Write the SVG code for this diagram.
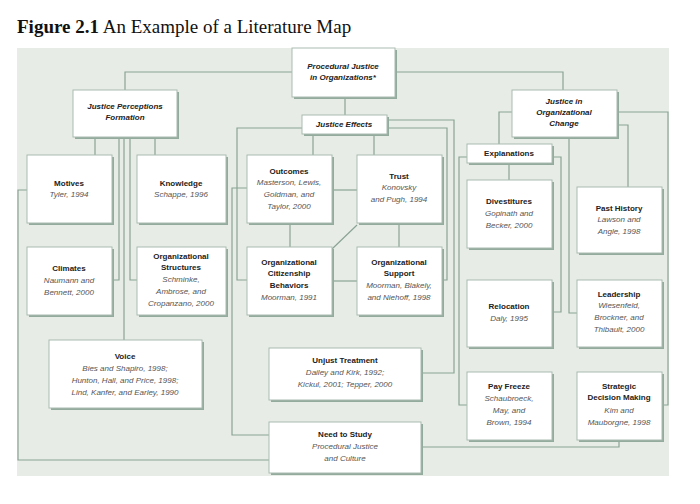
<svg xmlns="http://www.w3.org/2000/svg" width="700" height="504" viewBox="0 0 700 504">
<style>
.sh{fill:#93ab9c}
.bx{fill:#fff;stroke:#a9bbb0;stroke-width:1}
.ln{fill:none;stroke:#8aa394;stroke-width:1.2}
text{font-family:"Liberation Sans",Arial,sans-serif;font-size:8px;text-anchor:middle}
.b{font-weight:bold;fill:#222}
.i{font-style:italic;fill:#555}
.h{font-weight:bold;font-style:italic;fill:#222}
</style>
<rect width="700" height="504" fill="#fff"/>
<text x="17" y="33" style="font-family:'Liberation Serif',serif;font-size:19px;text-anchor:start;fill:#111"><tspan font-weight="bold">Figure 2.1</tspan> An Example of a Literature Map</text>
<rect x="17" y="48" width="652" height="428" fill="#e7ece7"/>
<g id="connectors" class="ln">
<polyline points="292,72 125,72 125,90"/>
<polyline points="397,72 563,72 563,90"/>
<line x1="345" y1="97" x2="345" y2="115"/>
<line x1="95" y1="137" x2="95" y2="155"/>
<line x1="155" y1="137" x2="155" y2="155"/>
<polyline points="119,137 119,280 112,280"/>
<polyline points="130,137 130,280 137,280"/>
<line x1="124" y1="137" x2="124" y2="340"/>
<polyline points="27,190 18,190 18,460 269,460"/>
<polyline points="302,128 237,128 237,280 247,280"/>
<polyline points="247,188 232,188 232,435 269,435"/>
<line x1="313" y1="134" x2="313" y2="155"/>
<line x1="374" y1="134" x2="374" y2="155"/>
<line x1="290" y1="223" x2="290" y2="247"/>
<line x1="399" y1="223" x2="399" y2="247"/>
<line x1="357" y1="225" x2="332" y2="249"/>
<line x1="332" y1="190" x2="357" y2="190"/>
<line x1="332" y1="281" x2="357" y2="281"/>
<polyline points="387,128 447,128 447,280 442,280"/>
<polyline points="387,120 454,120 454,373 421,373"/>
<polyline points="512,112 499,112 499,144"/>
<polyline points="569,137 569,313 577,313"/>
<polyline points="617,125 628,125 628,187"/>
<polyline points="617,112 668,112 668,405 662,405"/>
<line x1="509" y1="163" x2="509" y2="180"/>
<polyline points="467,157 459,157 459,405 467,405"/>
<polyline points="552,157 561,157 561,312 552,312"/>
<polyline points="421,447 619,447 619,440"/>
</g>
<g id="procedural"><rect class="sh" x="294" y="50" width="103" height="49"/><rect class="bx" x="292" y="48" width="103" height="49"/><text class="h" x="343" y="69">Procedural Justice</text><text class="h" x="343" y="80">in Organizations*</text></g>
<g id="jpf"><rect class="sh" x="75" y="92" width="104" height="47"/><rect class="bx" x="73" y="90" width="104" height="47"/><text class="h" x="125" y="109">Justice Perceptions</text><text class="h" x="125" y="120">Formation</text></g>
<g id="je"><rect class="sh" x="304" y="117" width="85" height="19"/><rect class="bx" x="302" y="115" width="85" height="19"/><text class="h" x="344" y="127">Justice Effects</text></g>
<g id="jioc"><rect class="sh" x="514" y="92" width="105" height="47"/><rect class="bx" x="512" y="90" width="105" height="47"/><text class="h" x="564" y="104">Justice in</text><text class="h" x="564" y="115">Organizational</text><text class="h" x="564" y="126">Change</text></g>
<g id="expl"><rect class="sh" x="469" y="146" width="85" height="19"/><rect class="bx" x="467" y="144" width="85" height="19"/><text class="b" x="509" y="156">Explanations</text></g>
<g id="motives"><rect class="sh" x="29" y="157" width="85" height="68"/><rect class="bx" x="27" y="155" width="85" height="68"/><text class="b" x="69" y="186">Motives</text><text class="i" x="69" y="197">Tyler, 1994</text></g>
<g id="knowledge"><rect class="sh" x="139" y="157" width="89" height="68"/><rect class="bx" x="137" y="155" width="89" height="68"/><text class="b" x="181" y="186">Knowledge</text><text class="i" x="181" y="197">Schappe, 1996</text></g>
<g id="outcomes"><rect class="sh" x="249" y="157" width="85" height="68"/><rect class="bx" x="247" y="155" width="85" height="68"/><text class="b" x="289" y="174">Outcomes</text><text class="i" x="289" y="185">Masterson, Lewis,</text><text class="i" x="289" y="197">Goldman, and</text><text class="i" x="289" y="209">Taylor, 2000</text></g>
<g id="trust"><rect class="sh" x="359" y="157" width="85" height="68"/><rect class="bx" x="357" y="155" width="85" height="68"/><text class="b" x="399" y="179">Trust</text><text class="i" x="399" y="190">Konovsky</text><text class="i" x="399" y="202">and Pugh, 1994</text></g>
<g id="divest"><rect class="sh" x="469" y="182" width="85" height="68"/><rect class="bx" x="467" y="180" width="85" height="68"/><text class="b" x="509" y="204">Divestitures</text><text class="i" x="509" y="216">Gopinath and</text><text class="i" x="509" y="228">Becker, 2000</text></g>
<g id="past"><rect class="sh" x="579" y="189" width="85" height="66"/><rect class="bx" x="577" y="187" width="85" height="66"/><text class="b" x="619" y="211">Past History</text><text class="i" x="619" y="222">Lawson and</text><text class="i" x="619" y="234">Angle, 1998</text></g>
<g id="climates"><rect class="sh" x="29" y="249" width="85" height="68"/><rect class="bx" x="27" y="247" width="85" height="68"/><text class="b" x="69" y="271">Climates</text><text class="i" x="69" y="283">Naumann and</text><text class="i" x="69" y="295">Bennett, 2000</text></g>
<g id="orgstruct"><rect class="sh" x="139" y="249" width="89" height="68"/><rect class="bx" x="137" y="247" width="89" height="68"/><text class="b" x="181" y="259">Organizational</text><text class="b" x="181" y="270">Structures</text><text class="i" x="181" y="282">Schminke,</text><text class="i" x="181" y="294">Ambrose, and</text><text class="i" x="181" y="306">Cropanzano, 2000</text></g>
<g id="ocb"><rect class="sh" x="249" y="249" width="85" height="68"/><rect class="bx" x="247" y="247" width="85" height="68"/><text class="b" x="289" y="265">Organizational</text><text class="b" x="289" y="276">Citizenship</text><text class="b" x="289" y="288">Behaviors</text><text class="i" x="289" y="300">Moorman, 1991</text></g>
<g id="orgsupport"><rect class="sh" x="359" y="249" width="85" height="68"/><rect class="bx" x="357" y="247" width="85" height="68"/><text class="b" x="399" y="265">Organizational</text><text class="b" x="399" y="276">Support</text><text class="i" x="399" y="288">Moorman, Blakely,</text><text class="i" x="399" y="300">and Niehoff, 1998</text></g>
<g id="relocation"><rect class="sh" x="469" y="282" width="85" height="67"/><rect class="bx" x="467" y="280" width="85" height="67"/><text class="b" x="509" y="309">Relocation</text><text class="i" x="509" y="321">Daly, 1995</text></g>
<g id="leadership"><rect class="sh" x="579" y="282" width="85" height="67"/><rect class="bx" x="577" y="280" width="85" height="67"/><text class="b" x="619" y="297">Leadership</text><text class="i" x="619" y="308">Wiesenfeld,</text><text class="i" x="619" y="320">Brockner, and</text><text class="i" x="619" y="332">Thibault, 2000</text></g>
<g id="voice"><rect class="sh" x="51" y="342" width="153" height="68"/><rect class="bx" x="49" y="340" width="153" height="68"/><text class="b" x="125" y="359">Voice</text><text class="i" x="125" y="371">Bies and Shapiro, 1998;</text><text class="i" x="125" y="383">Hunton, Hall, and Price, 1998;</text><text class="i" x="125" y="395">Lind, Kanfer, and Earley, 1990</text></g>
<g id="unjust"><rect class="sh" x="271" y="350" width="152" height="52"/><rect class="bx" x="269" y="348" width="152" height="52"/><text class="b" x="345" y="363">Unjust Treatment</text><text class="i" x="345" y="375">Dailey and Kirk, 1992;</text><text class="i" x="345" y="387">Kickul, 2001; Tepper, 2000</text></g>
<g id="payfreeze"><rect class="sh" x="469" y="374" width="85" height="68"/><rect class="bx" x="467" y="372" width="85" height="68"/><text class="b" x="509" y="389">Pay Freeze</text><text class="i" x="509" y="401">Schaubroeck,</text><text class="i" x="509" y="413">May, and</text><text class="i" x="509" y="425">Brown, 1994</text></g>
<g id="strategic"><rect class="sh" x="579" y="374" width="85" height="68"/><rect class="bx" x="577" y="372" width="85" height="68"/><text class="b" x="619" y="389">Strategic</text><text class="b" x="619" y="400">Decision Making</text><text class="i" x="619" y="413">Kim and</text><text class="i" x="619" y="425">Mauborgne, 1998</text></g>
<g id="needstudy"><rect class="sh" x="271" y="424" width="152" height="51"/><rect class="bx" x="269" y="422" width="152" height="51"/><text class="b" x="345" y="437">Need to Study</text><text class="i" x="345" y="449">Procedural Justice</text><text class="i" x="345" y="461">and Culture</text></g>
</svg>
